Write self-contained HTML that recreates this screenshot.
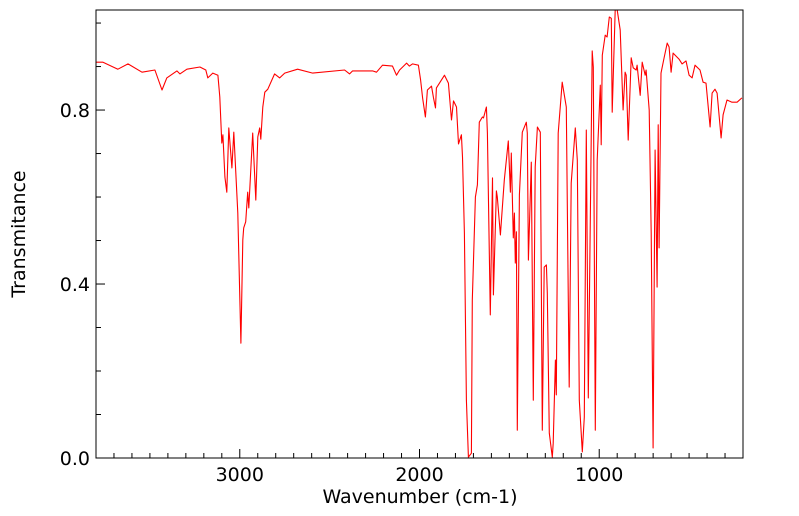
<!DOCTYPE html>
<html><head><meta charset="utf-8"><style>
html,body{margin:0;padding:0;background:#fff;}
svg{display:block;font-family:"DejaVu Sans","Liberation Sans",sans-serif;}
</style></head><body>
<svg id="chart" width="799" height="516"></svg>
<script>
const wavenumbers = [3800,3761,3678,3622,3544,3472,3433,3406,3350,3333,3294,3222,3189,3178,3150,3122,3111,3100,3094,3083,3072,3061,3044,3033,3011,2994,2983,2978,2967,2956,2950,2928,2911,2900,2889,2883,2872,2861,2844,2806,2778,2750,2678,2594,2417,2389,2372,2261,2239,2206,2150,2128,2111,2072,2056,2039,2006,1994,1983,1967,1956,1933,1922,1911,1906,1861,1839,1822,1811,1794,1783,1767,1761,1750,1739,1728,1711,1706,1689,1678,1667,1650,1644,1628,1622,1606,1594,1589,1572,1567,1550,1528,1506,1494,1489,1478,1472,1467,1461,1456,1444,1428,1406,1400,1394,1378,1367,1356,1344,1328,1317,1306,1294,1289,1278,1261,1256,1244,1239,1228,1206,1183,1167,1156,1133,1122,1111,1094,1083,1072,1061,1039,1033,1022,1011,994,989,983,967,956,944,933,928,911,900,883,867,856,850,839,822,811,794,789,772,761,744,739,722,711,700,689,678,672,667,656,639,622,611,600,589,556,539,517,500,483,467,439,422,406,383,372,356,344,322,311,289,261,233,206];
const transmittance = [0.910,0.910,0.894,0.906,0.887,0.892,0.846,0.874,0.890,0.883,0.894,0.899,0.892,0.874,0.885,0.880,0.830,0.724,0.743,0.646,0.611,0.759,0.667,0.749,0.563,0.264,0.501,0.529,0.543,0.611,0.575,0.747,0.593,0.738,0.759,0.733,0.807,0.841,0.848,0.883,0.874,0.885,0.894,0.885,0.892,0.883,0.890,0.890,0.887,0.903,0.901,0.880,0.892,0.908,0.901,0.906,0.903,0.869,0.828,0.784,0.846,0.855,0.828,0.805,0.851,0.880,0.862,0.777,0.821,0.807,0.722,0.743,0.692,0.517,0.133,0.002,0.011,0.363,0.600,0.628,0.772,0.784,0.782,0.807,0.747,0.329,0.644,0.375,0.614,0.600,0.513,0.639,0.729,0.611,0.701,0.506,0.563,0.448,0.520,0.064,0.605,0.749,0.772,0.747,0.455,0.680,0.133,0.669,0.761,0.749,0.064,0.439,0.444,0.379,0.057,0.002,0.034,0.225,0.145,0.747,0.864,0.807,0.163,0.632,0.759,0.685,0.133,0.014,0.094,0.754,0.138,0.936,0.899,0.064,0.685,0.857,0.720,0.926,0.972,0.968,1.014,1.011,0.795,1.030,1.030,0.984,0.800,0.887,0.880,0.731,0.920,0.897,0.892,0.903,0.834,0.910,0.880,0.892,0.800,0.517,0.023,0.708,0.393,0.766,0.483,0.885,0.920,0.954,0.945,0.887,0.931,0.917,0.906,0.913,0.880,0.874,0.903,0.892,0.864,0.862,0.761,0.839,0.848,0.839,0.736,0.789,0.823,0.818,0.818,0.828];
const xTickLabels = [3000,2000,1000];
const yTickLabels = [0.0,0.4,0.8];

const NS="http://www.w3.org/2000/svg";
const svg=document.getElementById('chart');
const L=96,R=743,T=10,B=458;
const X0=3800,X1=200,Y0=0,Y1=1.03;
function xs(v){return L+(X0-v)/(X0-X1)*(R-L);}
function ys(v){return B-(v-Y0)/(Y1-Y0)*(B-T);}
function mk(tag,attrs,parent){const e=document.createElementNS(NS,tag);for(const k in attrs)e.setAttribute(k,attrs[k]);(parent||svg).appendChild(e);return e;}

const defs=mk('defs',{});
const cp=mk('clipPath',{id:'clip'},defs);
mk('rect',{x:L,y:T,width:R-L,height:B-T},cp);

let d='';
for(let i=0;i<wavenumbers.length;i++){d+=(i?'L':'M')+xs(wavenumbers[i]).toFixed(1)+','+ys(transmittance[i]).toFixed(1);}
const line=mk('path',{d:d,fill:'none',stroke:'#ff0000','stroke-width':1.1,'stroke-linejoin':'round','clip-path':'url(#clip)'});



const frame=mk('rect',{x:L,y:T,width:R-L,height:B-T,fill:'none',stroke:'#000','stroke-width':1});



for(let w=3700;w>=300;w-=100){
  const x=xs(w);const major=(w%1000===0);
  const t=mk('line',{x1:x,x2:x,y1:B,y2:B-(major?9:5),stroke:'#000','stroke-width':1});
  
  
}
xTickLabels.forEach(v=>{
  const t=mk('text',{x:xs(v),y:481,'text-anchor':'middle','font-size':19,fill:'#000'});
  t.textContent=String(v);
  
  
});
for(let k=0;k<=10;k++){
  const v=k/10;const y=ys(v);const major=(k%4===0);
  const t=mk('line',{x1:L,x2:L+(major?9:5),y1:y,y2:y,stroke:'#000','stroke-width':1});
  
  
}
yTickLabels.forEach(v=>{
  const t=mk('text',{x:90,y:ys(v)+7,'text-anchor':'end','font-size':19,fill:'#000'});
  t.textContent=v.toFixed(1);
  
  
});
const xt=mk('text',{x:420,y:503,'text-anchor':'middle','font-size':19,fill:'#000'});
xt.textContent='Wavenumber (cm-1)';


const yt=mk('text',{x:0,y:0,'text-anchor':'middle','font-size':19,fill:'#000',transform:'translate(25,234) rotate(-90)'});
yt.textContent='Transmitance';


</script>
</body></html>
